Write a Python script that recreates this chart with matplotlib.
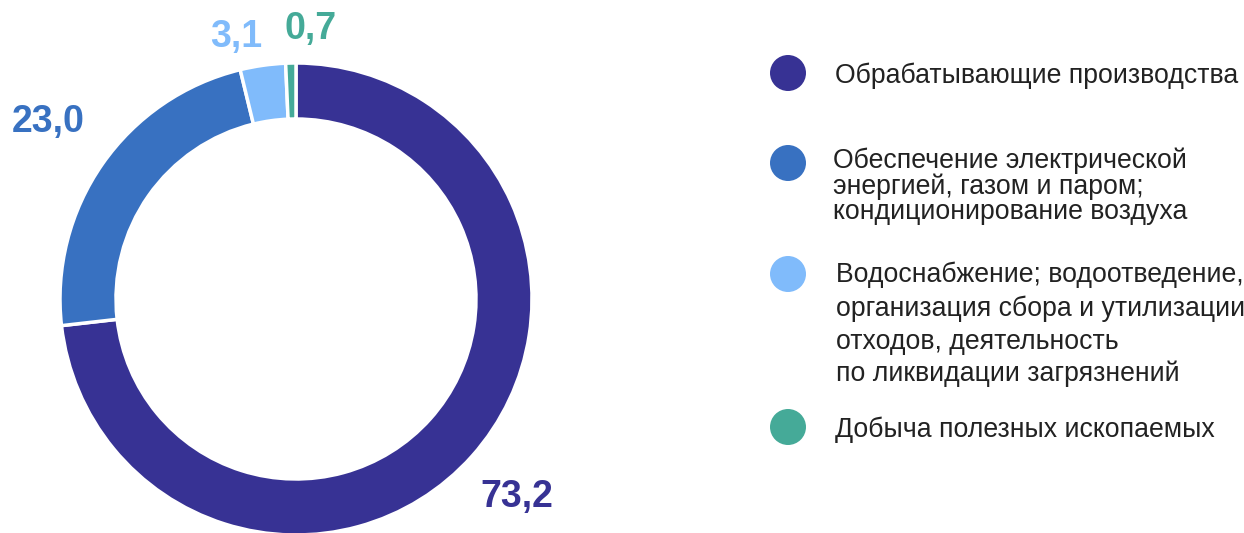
import matplotlib
matplotlib.use("Agg")
import matplotlib.pyplot as plt
from matplotlib.patches import Circle

plt.rcParams['font.family'] = ['Liberation Sans', 'DejaVu Sans']

categories = [
    "Обрабатывающие производства",
    "Обеспечение электрической\nэнергией, газом и паром;\nкондиционирование воздуха",
    "Водоснабжение; водоотведение,\nорганизация сбора и утилизации\nотходов, деятельность\nпо ликвидации загрязнений",
    "Добыча полезных ископаемых",
]
values = [73.2, 23.0, 3.1, 0.7]
value_labels = ["73,2", "23,0", "3,1", "0,7"]
colors = ["#373294", "#3871C1", "#80BBFB", "#45AA98"]

W, H = 1244, 533
fig = plt.figure(figsize=(W / 100, H / 100), dpi=100)
ax = fig.add_axes([0, 0, 1, 1])

cx, cy_px, R, width = 296, 299, 236, 56
ax.pie(values, colors=colors, startangle=90, counterclock=False,
       radius=R, center=(cx, H - cy_px),
       wedgeprops=dict(width=width, edgecolor="white", linewidth=2.5))
ax.set_xlim(0, W)
ax.set_ylim(0, H)
ax.set_aspect("equal")
ax.axis("off")

# value labels (pixel positions)
label_pos = [(517, 497), (48, 122), (236, 37), (311, 29)]
for (x, y), txt, c in zip(label_pos, value_labels, colors):
    ax.text(x, H - y, txt, color=c, fontsize=27, fontweight="bold",
            ha="center", va="center")

# legend
marker_y = [73, 163, 274, 427]
text_lines_y = [[76], [161, 187, 212], [275, 309, 342, 374], [430]]
text_x = [835, 833, 836, 835]
for i, cat in enumerate(categories):
    ax.add_patch(Circle((788, H - marker_y[i]), 18, color=colors[i], lw=0))
    for line, ly in zip(cat.split("\n"), text_lines_y[i]):
        ax.text(text_x[i], H - ly, line, color="#222222", fontsize=19.2,
                ha="left", va="center")

fig.savefig("out.png", dpi=100)
